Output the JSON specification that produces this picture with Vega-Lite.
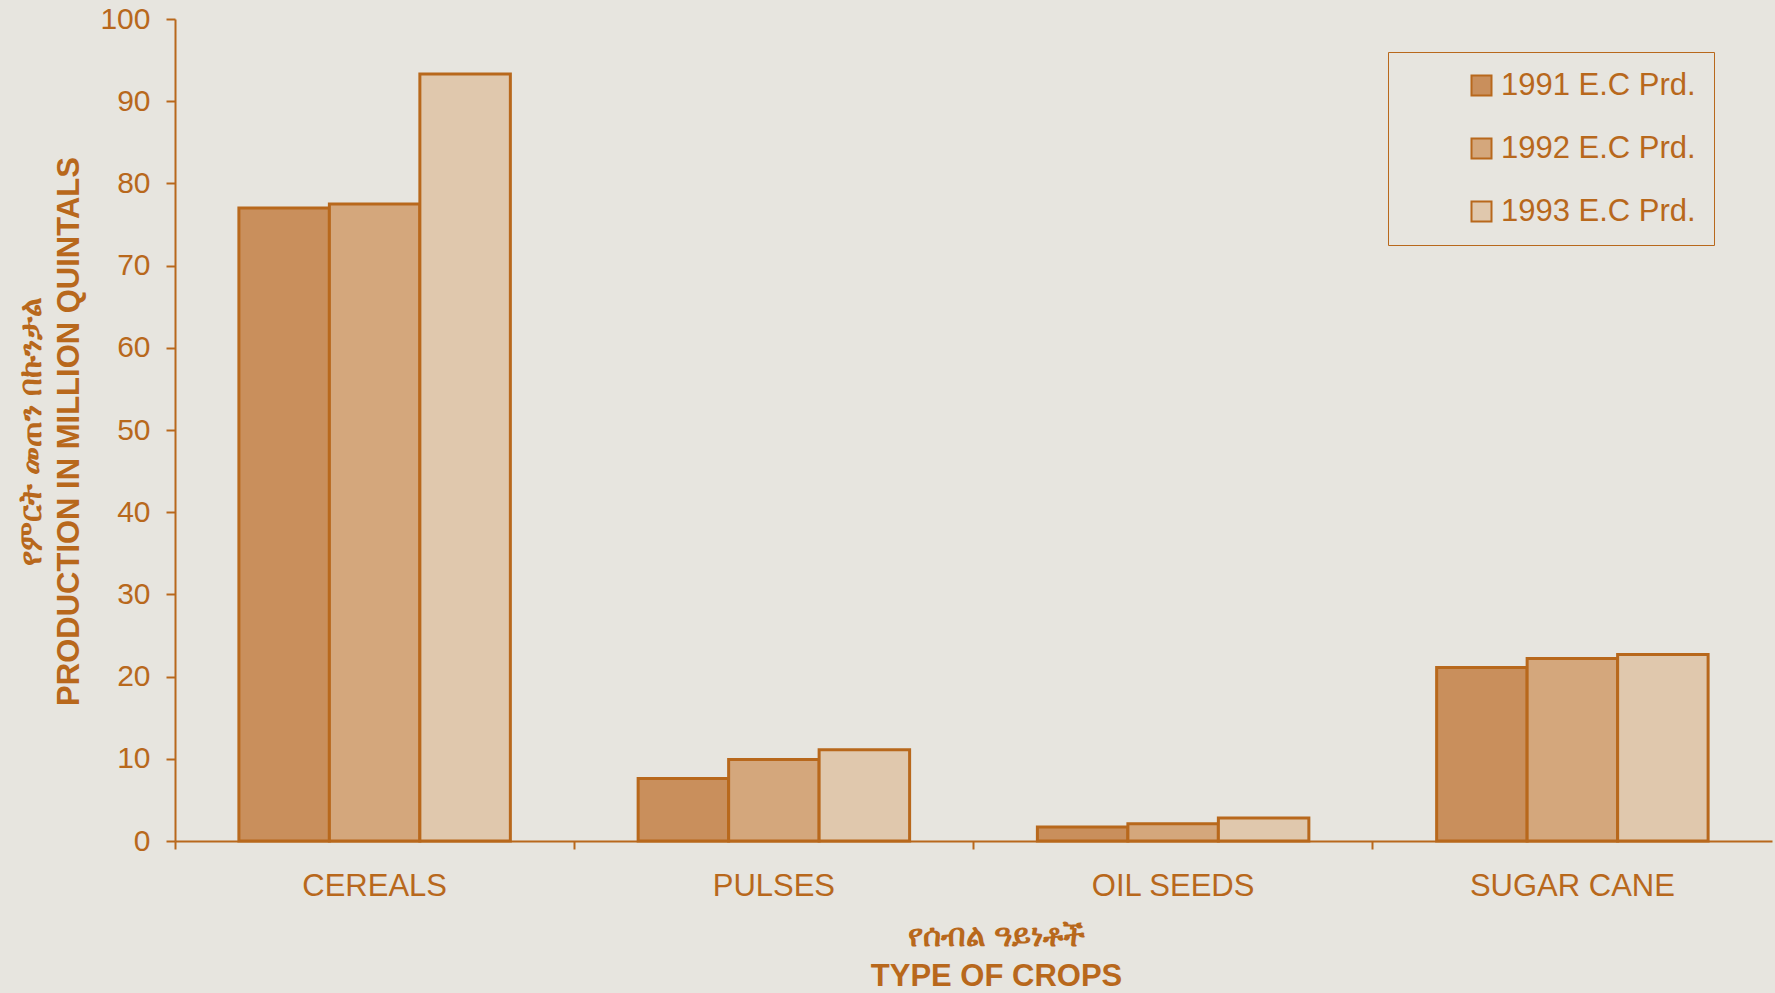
{
  "$schema": "https://vega.github.io/schema/vega-lite/v6.json",
  "width": 1597,
  "height": 822,
  "autosize": {"type": "none"},
  "padding": {"left": 175, "top": 19, "right": 3, "bottom": 152},
  "background": "#e7e5df",
  "config": {
    "view": {"stroke": null},
    "font": "Liberation Sans",
    "axis": {
      "domainColor": "#b8681c",
      "domainWidth": 2,
      "tickColor": "#b8681c",
      "tickWidth": 2,
      "labelColor": "#b8681c",
      "labelFont": "Liberation Sans",
      "titleColor": "#b8681c",
      "titleFont": "Liberation Sans",
      "grid": false
    }
  },
  "data": {
    "values": [
      {"crop": "CEREALS", "year": "1991 E.C Prd.", "value": 77.0},
      {"crop": "CEREALS", "year": "1992 E.C Prd.", "value": 77.5},
      {"crop": "CEREALS", "year": "1993 E.C Prd.", "value": 93.3},
      {"crop": "PULSES", "year": "1991 E.C Prd.", "value": 7.6},
      {"crop": "PULSES", "year": "1992 E.C Prd.", "value": 9.9},
      {"crop": "PULSES", "year": "1993 E.C Prd.", "value": 11.1},
      {"crop": "OIL SEEDS", "year": "1991 E.C Prd.", "value": 1.7},
      {"crop": "OIL SEEDS", "year": "1992 E.C Prd.", "value": 2.1},
      {"crop": "OIL SEEDS", "year": "1993 E.C Prd.", "value": 2.8},
      {"crop": "SUGAR CANE", "year": "1991 E.C Prd.", "value": 21.1},
      {"crop": "SUGAR CANE", "year": "1992 E.C Prd.", "value": 22.2},
      {"crop": "SUGAR CANE", "year": "1993 E.C Prd.", "value": 22.7}
    ]
  },
  "mark": {"type": "bar", "stroke": "#b8681c", "strokeWidth": 3},
  "encoding": {
    "x": {
      "field": "crop",
      "type": "nominal",
      "sort": ["CEREALS", "PULSES", "OIL SEEDS", "SUGAR CANE"],
      "scale": {"paddingInner": 0, "paddingOuter": 0},
      "axis": {
        "labelAngle": 0,
        "labelFontSize": 31,
        "labelPadding": 22,
        "labelLimit": 400,
        "tickSize": 8,
        "bandPosition": 0,
        "title": ["የሰብል ዓይነቶች", "TYPE OF CROPS"],
        "titleFontSize": 31,
        "titleFontWeight": "bold",
        "titleLineHeight": 40,
        "titleX": 821,
        "titleY": 80,
        "titleBaseline": "top"
      }
    },
    "xOffset": {"field": "year", "type": "nominal", "scale": {"paddingInner": 0, "paddingOuter": 0.706}},
    "y": {
      "field": "value",
      "type": "quantitative",
      "scale": {"domain": [0, 100]},
      "axis": {
        "values": [0, 10, 20, 30, 40, 50, 60, 70, 80, 90, 100],
        "labelFontSize": 30,
        "labelPadding": 16,
        "tickSize": 9,
        "title": ["የምርት መጠን በኩንታል", "PRODUCTION IN MILLION QUINTALS"],
        "titleFontSize": 31,
        "titleFontWeight": "bold",
        "titleLineHeight": 38,
        "titleAngle": -90,
        "titleX": -159,
        "titleY": 412,
        "titleBaseline": "top"
      }
    },
    "fill": {
      "field": "year",
      "type": "nominal",
      "scale": {"range": ["#c98f5c", "#d4a77c", "#e0c8ad"]},
      "legend": {
        "title": null,
        "orient": "none",
        "legendX": 1213,
        "legendY": 33,
        "padding": 18,
        "strokeColor": "#b8681c",
        "symbolType": "square",
        "symbolSize": 400,
        "symbolStrokeColor": "#b8681c",
        "symbolStrokeWidth": 2,
        "symbolOffset": 60,
        "labelFontSize": 31,
        "labelColor": "#b8681c",
        "labelFont": "Liberation Sans",
        "labelOffset": 4,
        "rowPadding": 31,
        "labelLimit": 400
      }
    }
  }
}
